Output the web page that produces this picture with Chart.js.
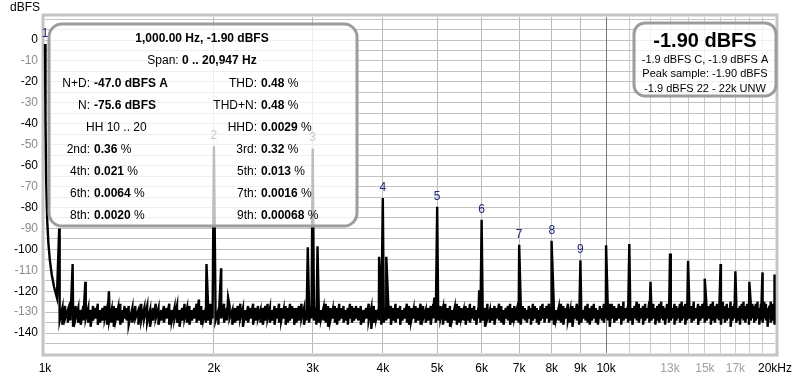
<!DOCTYPE html>
<html>
<head>
<meta charset="utf-8">
<script src="https://cdn.jsdelivr.net/npm/chart.js@4.4.1/dist/chart.umd.min.js"></script>
<style>
  html, body { margin: 0; padding: 0; background: #fff; }
  #wrap { width: 800px; height: 378px; }
</style>
</head>
<body>
<div id="wrap"><canvas id="fft" width="800" height="378"></canvas></div>
<script>
// harmonic peaks (Hz / dBFS) with their marker labels
const harmonicHz = [1000, 2000, 3000, 4000, 5000, 6000, 7000, 8000, 9000];
const harmonicDb = [-1.9, -50.8, -51.8, -75.5, -79.6, -85.8, -97.8, -95.9, -105.2];
const harmonicLabels = ['1', '2', '3', '4', '5', '6', '7', '8', '9'];

// skirt of the fundamental on its right side
const skirtHz = [1002, 1005, 1009, 1014, 1020, 1028, 1038, 1050];
const skirtDb = [-38, -68, -86, -97, -105, -112, -118, -123];

// sidebands and higher harmonics
const spikeHz = [1060, 1120, 1180, 1300, 1880, 1940, 2060, 2120, 2940, 3060, 3940, 4060, 4940, 5940,
  10000, 11000, 12000, 13000, 14000, 15000, 16000, 17000, 18000, 19000, 20000];
const spikeDb = [-90, -107, -115.5, -120, -124, -107, -109, -123, -99, -98.5, -103.5, -103.5, -123, -119.5,
  -98, -97.5, -115.5, -102, -105.5, -114, -107, -110.5, -115.5, -111, -112];

// noise floor: frequency of each display bin with its max and min level
const floorHz = [
  1062, 1074, 1086, 1098, 1110, 1122, 1134, 1146, 1158, 1170, 1182, 1194, 1206, 1218, 1230,
  1242, 1254, 1266, 1278, 1290, 1302, 1314, 1326, 1338, 1350, 1362, 1374, 1386, 1398, 1410,
  1431, 1449, 1467, 1485, 1503, 1521, 1539, 1557, 1575, 1593, 1611, 1629, 1647, 1665, 1683, 1701,
  1719, 1737, 1755, 1773, 1791, 1809, 1827, 1845, 1863, 1881, 1899, 1917, 1935, 1953, 1971, 1989,
  2013, 2037, 2061, 2085, 2109, 2133, 2157, 2181, 2205, 2229, 2253, 2277, 2301, 2325, 2349, 2373,
  2397, 2421, 2445, 2469, 2493, 2517, 2541, 2565, 2589, 2613, 2637, 2661, 2685, 2709, 2733, 2757, 2781,
  2805, 2835, 2865, 2895, 2925, 2955, 2985, 3015, 3045, 3075, 3105, 3135, 3165, 3195,
  3225, 3255, 3285, 3315, 3345, 3375, 3405, 3435, 3465, 3495, 3525, 3555, 3585,
  3615, 3655, 3695, 3735, 3775, 3815, 3855, 3895, 3935, 3975, 4015, 4055, 4095,
  4135, 4175, 4215, 4255, 4295, 4335, 4375, 4415, 4455, 4495, 4535, 4575,
  4620, 4670, 4720, 4770, 4820, 4870, 4920, 4970, 5020, 5070, 5120, 5170, 5220, 5270,
  5320, 5370, 5420, 5470, 5520, 5570, 5620, 5670, 5720, 5770, 5820, 5870, 5920, 5970,
  6025, 6085, 6145, 6205, 6265, 6325, 6385, 6445, 6505, 6565, 6625, 6685, 6745, 6805, 6865,
  6925, 6985, 7045, 7105, 7165, 7225, 7285, 7345, 7405, 7465, 7525, 7585, 7645, 7705, 7765,
  7830, 7910, 7990, 8070, 8150, 8230, 8310, 8390, 8470, 8550, 8630, 8710, 8790, 8870, 8950,
  9030, 9110, 9190, 9270, 9350, 9430, 9510, 9590, 9670, 9750, 9830, 9910, 9990, 10070, 10150,
  10240, 10340, 10440, 10540, 10640, 10740, 10840, 10940, 11040, 11140, 11240, 11340, 11440,
  11540, 11640, 11740, 11840, 11940, 12040, 12140, 12240, 12340, 12440, 12540, 12640, 12740,
  12840, 12940, 13040, 13140, 13240, 13340, 13440, 13540, 13640, 13740, 13840, 13940,
  14070, 14200, 14330, 14460, 14590, 14720, 14850, 14980, 15110, 15240, 15370, 15500, 15630,
  15760, 15890, 16020, 16150, 16280, 16410, 16540, 16670, 16800, 16930, 17060, 17190, 17320,
  17450, 17580, 17710, 17840, 17970, 18100, 18230, 18360, 18490, 18620, 18750, 18880, 19010,
  19140, 19270, 19400, 19530, 19660, 19790, 19920, 20050
];
const floorMaxDb = [
  -126, -128, -127, -129, -125, -128, -127, -128, -129, -127, -126, -128, -129, -127, -128,
  -126, -129, -128, -127, -128, -126, -129, -127, -128, -128, -126, -129, -127, -128, -127,
  -128, -127, -129, -126, -128, -127, -129, -128, -126, -128, -129, -127, -128, -126, -129, -128,
  -127, -129, -128, -126, -128, -127, -129, -128, -126, -128, -127, -129, -128, -127, -126, -128,
  -127, -129, -128, -126, -128, -127, -129, -128, -127, -126, -128, -129, -127, -128, -126, -128,
  -127, -129, -128, -127, -126, -128, -129, -127, -128, -126, -128, -129, -127, -128, -126, -127, -128,
  -128, -127, -126, -128, -129, -127, -128, -126, -128, -127, -129, -128, -126, -127,
  -128, -129, -127, -128, -126, -128, -127, -129, -128, -126, -127, -128, -127,
  -128, -127, -129, -128, -126, -128, -127, -129, -128, -126, -127, -128, -129,
  -127, -128, -126, -128, -127, -129, -128, -126, -127, -128, -129, -127,
  -128, -126, -127, -129, -128, -127, -126, -128, -129, -127, -128, -126, -128, -127,
  -129, -128, -126, -127, -128, -129, -127, -128, -126, -128, -127, -129, -128, -126,
  -127, -128, -126, -129, -128, -127, -128, -126, -127, -129, -128, -127, -126, -128, -127,
  -129, -128, -126, -127, -128, -129, -127, -128, -126, -127, -128, -129, -127, -126, -128,
  -127, -126, -128, -127, -129, -128, -126, -127, -128, -126, -129, -127, -128, -126, -127,
  -128, -129, -127, -126, -128, -127, -126, -128, -129, -127, -128, -126, -127, -128, -126,
  -126, -127, -128, -126, -127, -125, -128, -127, -126, -128, -127, -125, -126,
  -128, -127, -126, -128, -125, -127, -126, -128, -127, -126, -125, -127, -128,
  -126, -127, -125, -128, -126, -127, -128, -126, -125, -127, -126, -128,
  -126, -127, -125, -128, -126, -127, -126, -125, -128, -127, -126, -125, -127,
  -126, -128, -126, -125, -127, -126, -128, -125, -127, -126, -125, -128, -127,
  -126, -125, -127, -126, -128, -125, -126, -127, -126, -125, -128, -126, -127,
  -125, -126, -128, -127, -125, -126, -127, -126
];
const floorMinDb = [
  -134, -136, -133, -135, -134, -137, -133, -135, -136, -134, -133, -135, -137, -134, -133,
  -136, -135, -134, -133, -136, -134, -135, -137, -133, -134, -136, -135, -133, -134, -136,
  -135, -133, -136, -134, -133, -135, -137, -134, -133, -136, -134, -135, -133, -136, -134, -133,
  -135, -137, -134, -133, -135, -136, -134, -133, -135, -134, -136, -133, -135, -134, -136, -133,
  -134, -136, -133, -135, -134, -133, -136, -135, -134, -133, -137, -134, -135, -133, -136, -134,
  -133, -135, -136, -134, -133, -135, -134, -136, -133, -135, -134, -133, -136, -135, -134, -133, -136,
  -135, -134, -133, -136, -134, -135, -133, -134, -136, -135, -133, -134, -135, -137,
  -134, -133, -135, -136, -134, -133, -135, -134, -136, -133, -135, -134, -133,
  -134, -136, -135, -133, -134, -138, -135, -133, -134, -136, -135, -134, -133,
  -136, -134, -135, -133, -136, -134, -133, -135, -136, -134, -133, -135,
  -134, -136, -133, -135, -134, -136, -133, -135, -134, -133, -136, -134, -135, -137,
  -133, -134, -136, -135, -133, -134, -136, -134, -135, -133, -134, -136, -133, -135,
  -134, -137, -133, -135, -134, -136, -133, -134, -135, -136, -133, -134, -136, -135, -133,
  -134, -135, -136, -133, -134, -135, -133, -136, -134, -133, -135, -136, -134, -133, -135,
  -133, -135, -134, -136, -133, -134, -135, -136, -133, -134, -135, -137, -133, -134, -136,
  -135, -133, -134, -135, -136, -134, -133, -135, -136, -133, -134, -135, -133, -134, -137,
  -133, -135, -134, -133, -136, -134, -133, -135, -134, -136, -133, -134, -135,
  -133, -136, -134, -133, -135, -134, -133, -136, -134, -135, -133, -134, -136,
  -133, -135, -134, -133, -136, -134, -133, -135, -134, -133, -136, -134,
  -133, -135, -134, -133, -136, -134, -133, -135, -134, -133, -136, -134, -135,
  -133, -134, -136, -133, -135, -134, -133, -137, -134, -133, -135, -134, -136,
  -133, -134, -135, -133, -136, -134, -133, -135, -134, -133, -136, -134, -135,
  -133, -134, -137, -133, -135, -134, -136, -134
];

// axes
const xGridHz = [1000, 2000, 3000, 4000, 5000, 6000, 7000, 8000, 9000, 10000,
  11000, 12000, 13000, 14000, 15000, 16000, 17000, 18000, 19000, 20000];
const xLabelHz = [1000, 2000, 3000, 4000, 5000, 6000, 7000, 8000, 9000, 10000, 13000, 15000, 17000, 20000];
const xLabelText = ['1k', '2k', '3k', '4k', '5k', '6k', '7k', '8k', '9k', '10k', '13k', '15k', '17k', '20kHz'];
const xLabelGray = [13000, 15000, 17000];
const yGridDb = [-145, -140, -135, -130, -125, -120, -115, -110, -105, -100, -95, -90, -85, -80,
  -75, -70, -65, -60, -55, -50, -45, -40, -35, -30, -25, -20, -15, -10, -5, 0, 5, 10];

// measurement panels
const headLine = '1,000.00 Hz, -1.90 dBFS';
const spanLabel = 'Span: ';
const spanValue = '0 .. 20,947 Hz';
const leftNames = ['N+D:', 'N:', '', '2nd:', '4th:', '6th:', '8th:'];
const leftValues = ['-47.0 dBFS A', '-75.6 dBFS', '', '0.36', '0.021', '0.0064', '0.0020'];
const leftUnits = ['', '', '', '%', '%', '%', '%'];
const rightNames = ['THD:', 'THD+N:', 'HHD:', '3rd:', '5th:', '7th:', '9th:'];
const rightValues = ['0.48', '0.48', '0.0029', '0.32', '0.013', '0.0016', '0.00068'];
const hhText = 'HH 10 .. 20';
const levelBig = '-1.90 dBFS';
const levelLines = ['-1.9 dBFS C, -1.9 dBFS A', 'Peak sample: -1.90 dBFS', '-1.9 dBFS 22 - 22k UNW'];

const FONT = '"Liberation Sans", Arial, sans-serif';

// one trace: peaks, skirt, spikes and the floor bins (max then min per bin)
const points = [];
harmonicHz.forEach((f, i) => points.push({ x: f, y: harmonicDb[i] }));
skirtHz.forEach((f, i) => points.push({ x: f, y: skirtDb[i] }));
spikeHz.forEach((f, i) => points.push({ x: f, y: spikeDb[i] }));
const nFloor = Math.min(floorHz.length, floorMaxDb.length, floorMinDb.length);
for (let i = 0; i < nFloor; i++) {
    points.push({ x: floorHz[i], y: floorMaxDb[i] });
    points.push({ x: floorHz[i], y: floorMinDb[i] });
}
points.sort((a, b) => a.x - b.x);

function roundBox(ctx, x, y, w, h, r) {
    ctx.beginPath();
    ctx.moveTo(x + r, y);
    ctx.arcTo(x + w, y, x + w, y + h, r);
    ctx.arcTo(x + w, y + h, x, y + h, r);
    ctx.arcTo(x, y + h, x, y, r);
    ctx.arcTo(x, y, x + w, y, r);
    ctx.closePath();
    ctx.fillStyle = 'rgba(255,255,255,0.74)';
    ctx.fill();
    ctx.lineWidth = 3;
    ctx.strokeStyle = '#9c9c9c';
    ctx.stroke();
}

const frame = {
    id: 'frame',
    beforeDatasetsDraw(chart) {
        const ctx = chart.ctx, a = chart.chartArea;
        ctx.save();
        // darker decade line at 10k
        const x10 = Math.round(chart.scales.x.getPixelForValue(10000)) + 0.5;
        ctx.strokeStyle = '#7a7a7a';
        ctx.lineWidth = 1;
        ctx.beginPath();
        ctx.moveTo(x10, a.top);
        ctx.lineTo(x10, a.bottom);
        ctx.stroke();
        ctx.strokeStyle = '#c4c4c4';
        ctx.lineWidth = 3;
        ctx.strokeRect(a.left - 2, a.top - 2, a.right - a.left + 4, a.bottom - a.top + 4);
        ctx.restore();
    }
};

const overlay = {
    id: 'overlay',
    afterDraw(chart) {
        const ctx = chart.ctx;
        const xs = chart.scales.x, ys = chart.scales.y;
        ctx.save();

        // axis title
        ctx.font = '12px ' + FONT;
        ctx.fillStyle = '#000';
        ctx.textAlign = 'left';
        ctx.textBaseline = 'middle';
        ctx.fillText('dBFS', 10, 8);

        // harmonic numbers
        ctx.fillStyle = '#1e2878';
        ctx.textAlign = 'center';
        ctx.textBaseline = 'alphabetic';
        harmonicHz.forEach((f, i) => {
            ctx.fillText(harmonicLabels[i], xs.getPixelForValue(f), ys.getPixelForValue(harmonicDb[i]) - 7);
        });

        // left measurement panel
        roundBox(ctx, 49, 24, 308, 202, 13);
        ctx.fillStyle = '#000';
        ctx.textBaseline = 'middle';
        ctx.font = 'bold 12px ' + FONT;
        ctx.textAlign = 'center';
        ctx.fillText(headLine, 202, 39);

        ctx.font = '12px ' + FONT;
        const wl = ctx.measureText(spanLabel).width;
        ctx.font = 'bold 12px ' + FONT;
        const wv = ctx.measureText(spanValue).width;
        const sx = 202 - (wl + wv) / 2;
        ctx.textAlign = 'left';
        ctx.font = '12px ' + FONT;
        ctx.fillText(spanLabel, sx, 61);
        ctx.font = 'bold 12px ' + FONT;
        ctx.fillText(spanValue, sx + wl, 61);

        const pair = (name, value, unit, colonX, y) => {
            ctx.font = '12px ' + FONT;
            ctx.textAlign = 'right';
            ctx.fillText(name, colonX, y);
            ctx.textAlign = 'left';
            ctx.font = 'bold 12px ' + FONT;
            ctx.fillText(value, colonX + 4, y);
            if (unit) {
                const w = ctx.measureText(value).width;
                ctx.font = '12px ' + FONT;
                ctx.fillText(' ' + unit, colonX + 4 + w, y);
            }
        };
        for (let r = 0; r < 7; r++) {
            const y = 84 + r * 22;
            if (leftNames[r]) pair(leftNames[r], leftValues[r], leftUnits[r], 90, y);
            pair(rightNames[r], rightValues[r], '%', 257, y);
        }
        ctx.font = '12px ' + FONT;
        ctx.textAlign = 'left';
        ctx.fillText(hhText, 86, 84 + 2 * 22);

        // right level panel
        roundBox(ctx, 634, 23, 142, 73, 11);
        ctx.fillStyle = '#000';
        ctx.textAlign = 'center';
        ctx.font = 'bold 20px ' + FONT;
        ctx.fillText(levelBig, 705, 41);
        ctx.font = '11px ' + FONT;
        levelLines.forEach((t, i) => ctx.fillText(t, 705, 60 + i * 14.3));

        ctx.restore();
    }
};

new Chart(document.getElementById('fft'), {
    type: 'line',
    data: {
        datasets: [{
            data: points,
            borderColor: '#000',
            borderWidth: 2.4,
            pointRadius: 0,
            tension: 0,
            fill: false,
            clip: false
        }]
    },
    options: {
        responsive: false,
        animation: false,
        events: [],
        layout: { padding: { left: 0, top: 17, right: 22, bottom: 0 } },
        plugins: { legend: { display: false }, tooltip: { enabled: false } },
        scales: {
            x: {
                type: 'logarithmic',
                min: 1000,
                max: 20000,
                afterBuildTicks: s => { s.ticks = xGridHz.map(v => ({ value: v })); },
                afterFit: s => { s.height = 25; },
                border: { display: false },
                grid: {
                    drawTicks: false,
                    lineWidth: 1,
                    color: c => {
                        const v = c.tick ? c.tick.value : 0;
                        if (v === 1000 || v === 20000) return 'rgba(0,0,0,0)';
                        return v > 10000 ? '#cccccc' : '#bababa';
                    }
                },
                ticks: {
                    autoSkip: false,
                    maxRotation: 0,
                    padding: 8,
                    font: { family: FONT, size: 12 },
                    color: c => (c.tick && xLabelGray.includes(c.tick.value)) ? '#a0a0a0' : '#000',
                    callback: v => {
                        const i = xLabelHz.indexOf(v);
                        return i >= 0 ? xLabelText[i] : '';
                    }
                }
            },
            y: {
                min: -149.5,
                max: 11,
                afterBuildTicks: s => { s.ticks = yGridDb.map(v => ({ value: v })); },
                afterFit: s => { s.width = 45; },
                border: { display: false },
                grid: { drawTicks: false, color: '#c2c2c2', lineWidth: 1 },
                ticks: {
                    autoSkip: false,
                    padding: 7,
                    font: { family: FONT, size: 12 },
                    color: c => (c.tick && c.tick.value % 20 === 0) ? '#000' : '#8c8c8c',
                    callback: v => (v % 10 === 0 && v <= 0) ? String(v) : ''
                }
            }
        }
    },
    plugins: [frame, overlay]
});
</script>
</body>
</html>
